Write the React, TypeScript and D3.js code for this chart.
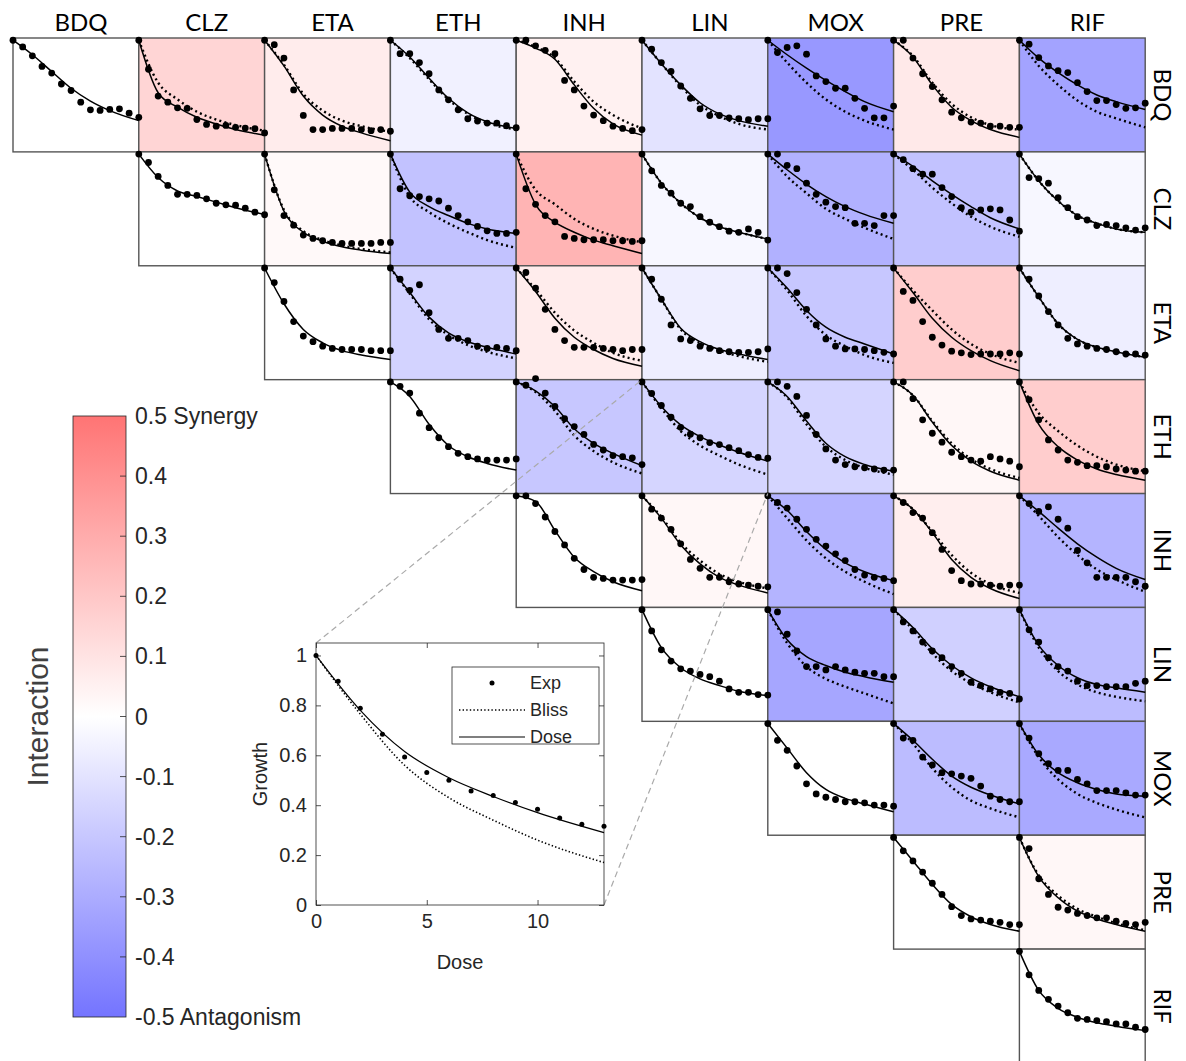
import React, { useEffect, useRef } from 'react';
import * as d3 from 'd3';

const drugs = ['BDQ', 'CLZ', 'ETA', 'ETH', 'INH', 'LIN', 'MOX', 'PRE', 'RIF'];
// experimental doses (dots) and the dose levels where the model curves were read
const doses = [0, 1, 2, 3, 4, 5, 6, 7, 8, 9, 10, 11, 12, 13];
const knots = [0, 2, 4, 6, 8, 10, 13];

// cells, row by row (upper triangle)
const pairs = [
    'BDQ-BDQ', 'BDQ-CLZ', 'BDQ-ETA', 'BDQ-ETH', 'BDQ-INH', 'BDQ-LIN', 'BDQ-MOX', 'BDQ-PRE', 'BDQ-RIF',
    'CLZ-CLZ', 'CLZ-ETA', 'CLZ-ETH', 'CLZ-INH', 'CLZ-LIN', 'CLZ-MOX', 'CLZ-PRE', 'CLZ-RIF',
    'ETA-ETA', 'ETA-ETH', 'ETA-INH', 'ETA-LIN', 'ETA-MOX', 'ETA-PRE', 'ETA-RIF',
    'ETH-ETH', 'ETH-INH', 'ETH-LIN', 'ETH-MOX', 'ETH-PRE', 'ETH-RIF',
    'INH-INH', 'INH-LIN', 'INH-MOX', 'INH-PRE', 'INH-RIF',
    'LIN-LIN', 'LIN-MOX', 'LIN-PRE', 'LIN-RIF',
    'MOX-MOX', 'MOX-PRE', 'MOX-RIF',
    'PRE-PRE', 'PRE-RIF',
    'RIF-RIF',
];

const interaction = [
    0, 0.15, 0.07, -0.05, 0.05, -0.1, -0.37, 0.08, -0.33,
    0, 0.02, -0.22, 0.27, -0.03, -0.28, -0.22, -0.03,
    0, -0.16, 0.07, -0.06, -0.2, 0.18, -0.06,
    0, -0.2, -0.15, -0.15, 0.03, 0.18,
    0, 0.03, -0.27, 0.06, -0.27,
    0, -0.32, -0.17, -0.24,
    0, -0.24, -0.31,
    0, 0.03,
    0,
];

const expGrowth = [
    [1, 0.94, 0.86, 0.765, 0.706, 0.608, 0.55, 0.445, 0.377, 0.371, 0.38, 0.386, 0.347, 0.31],
    [1, 0.74, 0.5, 0.445, 0.395, 0.39, 0.29, 0.246, 0.23, 0.237, 0.22, 0.213, 0.208, 0.17],
    [1, 0.96, 0.84, 0.555, 0.327, 0.2, 0.2, 0.21, 0.21, 0.21, 0.2, 0.19, 0.2, 0.185],
    [1, 0.88, 0.88, 0.8, 0.7, 0.555, 0.466, 0.377, 0.297, 0.276, 0.258, 0.258, 0.234, 0.216],
    [1, 1, 0.95, 0.91, 0.88, 0.64, 0.555, 0.41, 0.33, 0.28, 0.23, 0.21, 0.19, 0.2],
    [1, 0.92, 0.8, 0.72, 0.59, 0.48, 0.386, 0.326, 0.326, 0.305, 0.297, 0.288, 0.297, 0.297],
    [1, 0.89, 0.935, 0.95, 0.875, 0.68, 0.63, 0.57, 0.57, 0.48, 0.39, 0.305, 0.305, 0.41],
    [1, 1, 0.84, 0.7, 0.585, 0.466, 0.356, 0.305, 0.267, 0.258, 0.23, 0.23, 0.22, 0.22],
    [1, 0.965, 0.845, 0.77, 0.727, 0.71, 0.62, 0.54, 0.46, 0.46, 0.424, 0.39, 0.395, 0.436],

    [1, 0.925, 0.8, 0.72, 0.64, 0.64, 0.63, 0.6, 0.56, 0.546, 0.543, 0.516, 0.48, 0.457],
    [1, 0.68, 0.45, 0.364, 0.275, 0.245, 0.224, 0.209, 0.2, 0.2, 0.2, 0.2, 0.209, 0.209],
    [1, 0.69, 0.627, 0.62, 0.6, 0.58, 0.516, 0.45, 0.394, 0.352, 0.313, 0.29, 0.29, 0.3],
    [1, 0.69, 0.55, 0.45, 0.394, 0.263, 0.245, 0.233, 0.233, 0.233, 0.224, 0.224, 0.218, 0.224],
    [1, 0.85, 0.72, 0.65, 0.56, 0.53, 0.44, 0.39, 0.35, 0.31, 0.3, 0.33, 0.3, 0.23],
    [1, 1, 0.9, 0.87, 0.74, 0.64, 0.57, 0.53, 0.52, 0.38, 0.38, 0.36, 0.45, 0.45],
    [1, 0.95, 0.87, 0.82, 0.82, 0.7, 0.62, 0.52, 0.48, 0.5, 0.51, 0.5, 0.41, 0.31],
    [1, 0.79, 0.78, 0.74, 0.61, 0.52, 0.44, 0.41, 0.36, 0.37, 0.36, 0.34, 0.32, 0.34],

    [1, 0.87, 0.7, 0.52, 0.39, 0.34, 0.3, 0.28, 0.27, 0.27, 0.27, 0.26, 0.26, 0.26],
    [1, 0.9, 0.8, 0.85, 0.6, 0.45, 0.37, 0.37, 0.35, 0.3, 0.28, 0.29, 0.28, 0.26],
    [1, 0.96, 0.82, 0.63, 0.45, 0.35, 0.29, 0.29, 0.29, 0.28, 0.27, 0.26, 0.27, 0.27],
    [1, 0.9, 0.72, 0.49, 0.365, 0.35, 0.3, 0.28, 0.26, 0.25, 0.245, 0.245, 0.25, 0.275],
    [1, 1, 0.95, 0.78, 0.63, 0.49, 0.365, 0.3, 0.275, 0.275, 0.27, 0.26, 0.245, 0.23],
    [1, 0.79, 0.71, 0.52, 0.38, 0.31, 0.255, 0.24, 0.225, 0.23, 0.23, 0.23, 0.24, 0.23],
    [1, 0.9, 0.75, 0.61, 0.49, 0.37, 0.32, 0.3, 0.28, 0.27, 0.25, 0.23, 0.23, 0.22],

    [1, 0.96, 0.9, 0.72, 0.59, 0.5, 0.42, 0.36, 0.33, 0.31, 0.3, 0.3, 0.3, 0.31],
    [1, 0.97, 1.03, 0.9, 0.78, 0.67, 0.6, 0.53, 0.44, 0.39, 0.34, 0.33, 0.32, 0.26],
    [1, 0.897, 0.789, 0.684, 0.593, 0.531, 0.5, 0.457, 0.439, 0.411, 0.384, 0.349, 0.324, 0.316],
    [1, 1, 0.96, 0.87, 0.7, 0.53, 0.4, 0.3, 0.26, 0.24, 0.23, 0.22, 0.21, 0.21],
    [1, 1, 0.85, 0.66, 0.54, 0.46, 0.37, 0.33, 0.3, 0.29, 0.33, 0.31, 0.29, 0.24],
    [1, 0.84, 0.66, 0.48, 0.39, 0.3, 0.28, 0.25, 0.25, 0.24, 0.22, 0.21, 0.2, 0.2],

    [1, 1, 0.93, 0.81, 0.68, 0.56, 0.44, 0.34, 0.27, 0.26, 0.245, 0.245, 0.245, 0.25],
    [1, 0.88, 0.8, 0.7, 0.57, 0.43, 0.35, 0.27, 0.27, 0.23, 0.21, 0.2, 0.19, 0.185],
    [1, 0.94, 0.89, 0.79, 0.7, 0.61, 0.55, 0.48, 0.42, 0.34, 0.29, 0.27, 0.26, 0.24],
    [1, 0.94, 0.85, 0.8, 0.67, 0.52, 0.33, 0.24, 0.21, 0.21, 0.2, 0.19, 0.2, 0.2],
    [1, 0.93, 0.86, 0.9, 0.79, 0.71, 0.51, 0.4, 0.27, 0.27, 0.27, 0.27, 0.23, 0.19],

    [1, 0.81, 0.64, 0.54, 0.47, 0.45, 0.42, 0.4, 0.36, 0.29, 0.26, 0.26, 0.24, 0.235],
    [1, 0.98, 0.78, 0.63, 0.49, 0.49, 0.46, 0.49, 0.46, 0.44, 0.43, 0.43, 0.4, 0.4],
    [1, 0.89, 0.81, 0.71, 0.63, 0.57, 0.49, 0.43, 0.35, 0.32, 0.29, 0.26, 0.25, 0.2],
    [1, 0.82, 0.71, 0.57, 0.49, 0.45, 0.36, 0.32, 0.32, 0.31, 0.31, 0.31, 0.34, 0.36],

    [1, 0.85, 0.76, 0.62, 0.46, 0.37, 0.34, 0.32, 0.3, 0.3, 0.29, 0.27, 0.27, 0.26],
    [1, 0.87, 0.85, 0.7, 0.63, 0.56, 0.55, 0.53, 0.51, 0.44, 0.35, 0.32, 0.3, 0.3],
    [1, 0.87, 0.73, 0.64, 0.58, 0.58, 0.5, 0.46, 0.4, 0.4, 0.4, 0.38, 0.36, 0.36],

    [1, 0.88, 0.79, 0.69, 0.59, 0.49, 0.38, 0.3, 0.27, 0.26, 0.25, 0.24, 0.22, 0.22],
    [1, 0.9, 0.63, 0.49, 0.375, 0.35, 0.32, 0.3, 0.28, 0.28, 0.25, 0.23, 0.22, 0.24],

    [1, 0.79, 0.65, 0.57, 0.51, 0.45, 0.4, 0.39, 0.38, 0.37, 0.35, 0.35, 0.32, 0.3],
];

// Bliss independence prediction at the knots (null on the diagonal)
const blissCurve = [
    null,
    [1, 0.62, 0.47, 0.36, 0.29, 0.24, 0.19],
    [1, 0.78, 0.52, 0.37, 0.28, 0.23, 0.18],
    [1, 0.84, 0.65, 0.47, 0.34, 0.26, 0.2],
    [1, 0.94, 0.84, 0.63, 0.45, 0.33, 0.21],
    [1, 0.79, 0.59, 0.42, 0.32, 0.25, 0.2],
    [1, 0.8, 0.62, 0.47, 0.36, 0.28, 0.2],
    [1, 0.86, 0.62, 0.43, 0.31, 0.24, 0.2],
    [1, 0.77, 0.6, 0.46, 0.36, 0.3, 0.22],

    null,
    [1, 0.5, 0.31, 0.23, 0.18, 0.15, 0.12],
    [1, 0.62, 0.48, 0.38, 0.3, 0.23, 0.16],
    [1, 0.68, 0.55, 0.42, 0.33, 0.27, 0.21],
    [1, 0.74, 0.56, 0.43, 0.35, 0.3, 0.24],
    [1, 0.8, 0.65, 0.51, 0.42, 0.34, 0.24],
    [1, 0.86, 0.7, 0.56, 0.44, 0.35, 0.26],
    [1, 0.76, 0.58, 0.45, 0.38, 0.33, 0.3],

    null,
    [1, 0.77, 0.54, 0.4, 0.31, 0.25, 0.19],
    [1, 0.81, 0.6, 0.44, 0.33, 0.24, 0.17],
    [1, 0.72, 0.45, 0.33, 0.26, 0.21, 0.16],
    [1, 0.8, 0.57, 0.4, 0.3, 0.22, 0.15],
    [1, 0.8, 0.62, 0.45, 0.32, 0.23, 0.15],
    [1, 0.74, 0.5, 0.36, 0.29, 0.25, 0.2],

    null,
    [1, 0.91, 0.74, 0.52, 0.38, 0.28, 0.18],
    [1, 0.765, 0.56, 0.43, 0.34, 0.26, 0.17],
    [1, 0.86, 0.62, 0.42, 0.3, 0.23, 0.17],
    [1, 0.88, 0.65, 0.45, 0.31, 0.22, 0.14],
    [1, 0.72, 0.56, 0.43, 0.33, 0.26, 0.2],

    null,
    [1, 0.81, 0.58, 0.42, 0.3, 0.23, 0.17],
    [1, 0.8, 0.6, 0.44, 0.32, 0.23, 0.12],
    [1, 0.88, 0.68, 0.47, 0.31, 0.21, 0.13],
    [1, 0.82, 0.63, 0.47, 0.34, 0.25, 0.14],

    null,
    [1, 0.7, 0.49, 0.38, 0.31, 0.25, 0.16],
    [1, 0.82, 0.61, 0.45, 0.34, 0.26, 0.17],
    [1, 0.66, 0.45, 0.33, 0.26, 0.22, 0.18],

    null,
    [1, 0.82, 0.6, 0.43, 0.31, 0.24, 0.16],
    [1, 0.7, 0.5, 0.37, 0.29, 0.23, 0.16],

    null,
    [1, 0.66, 0.48, 0.36, 0.29, 0.23, 0.17],

    null,
];

// dose-equivalence prediction at the knots; single-drug fit on the diagonal
const doseCurve = [
    [1, 0.87, 0.72, 0.57, 0.455, 0.37, 0.28],
    [1, 0.53, 0.4, 0.31, 0.25, 0.2, 0.15],
    [1, 0.77, 0.5, 0.33, 0.23, 0.17, 0.1],
    [1, 0.85, 0.66, 0.48, 0.35, 0.27, 0.21],
    [1, 0.93, 0.83, 0.6, 0.39, 0.25, 0.15],
    [1, 0.79, 0.6, 0.44, 0.34, 0.28, 0.23],
    [1, 0.87, 0.75, 0.64, 0.54, 0.45, 0.36],
    [1, 0.85, 0.6, 0.4, 0.28, 0.2, 0.13],
    [1, 0.84, 0.71, 0.6, 0.51, 0.45, 0.38],

    [1, 0.79, 0.67, 0.62, 0.57, 0.52, 0.46],
    [1, 0.49, 0.3, 0.22, 0.17, 0.14, 0.11],
    [1, 0.66, 0.53, 0.45, 0.38, 0.33, 0.29],
    [1, 0.55, 0.39, 0.3, 0.23, 0.18, 0.11],
    [1, 0.74, 0.56, 0.43, 0.35, 0.3, 0.24],
    [1, 0.86, 0.73, 0.62, 0.53, 0.46, 0.38],
    [1, 0.89, 0.76, 0.64, 0.53, 0.43, 0.33],
    [1, 0.76, 0.58, 0.45, 0.38, 0.33, 0.3],

    [1, 0.68, 0.45, 0.33, 0.26, 0.22, 0.18],
    [1, 0.78, 0.56, 0.42, 0.34, 0.29, 0.23],
    [1, 0.79, 0.55, 0.38, 0.27, 0.19, 0.12],
    [1, 0.72, 0.46, 0.34, 0.27, 0.23, 0.18],
    [1, 0.82, 0.62, 0.47, 0.38, 0.32, 0.23],
    [1, 0.78, 0.55, 0.38, 0.26, 0.17, 0.08],
    [1, 0.74, 0.5, 0.36, 0.29, 0.25, 0.2],

    [1, 0.87, 0.62, 0.43, 0.33, 0.27, 0.21],
    [1, 0.92, 0.78, 0.58, 0.45, 0.36, 0.25],
    [1, 0.78, 0.615, 0.51, 0.435, 0.37, 0.29],
    [1, 0.87, 0.65, 0.45, 0.33, 0.26, 0.2],
    [1, 0.88, 0.64, 0.43, 0.29, 0.2, 0.12],
    [1, 0.62, 0.42, 0.3, 0.22, 0.17, 0.12],

    [1, 0.95, 0.69, 0.45, 0.32, 0.23, 0.15],
    [1, 0.8, 0.56, 0.39, 0.27, 0.2, 0.13],
    [1, 0.87, 0.68, 0.52, 0.4, 0.32, 0.24],
    [1, 0.88, 0.67, 0.43, 0.27, 0.17, 0.08],
    [1, 0.86, 0.71, 0.57, 0.45, 0.35, 0.25],

    [1, 0.66, 0.48, 0.38, 0.32, 0.27, 0.23],
    [1, 0.73, 0.58, 0.5, 0.44, 0.4, 0.35],
    [1, 0.84, 0.65, 0.5, 0.39, 0.31, 0.22],
    [1, 0.68, 0.5, 0.39, 0.33, 0.3, 0.26],

    [1, 0.78, 0.56, 0.41, 0.33, 0.28, 0.21],
    [1, 0.85, 0.68, 0.53, 0.43, 0.36, 0.28],
    [1, 0.72, 0.56, 0.47, 0.41, 0.37, 0.35],

    [1, 0.79, 0.58, 0.4, 0.29, 0.22, 0.16],
    [1, 0.65, 0.46, 0.34, 0.27, 0.22, 0.16],

    [1, 0.65, 0.49, 0.41, 0.36, 0.33, 0.29],
];

const insetPair = 'ETH-LIN';
const growthTicks = [0, 0.2, 0.4, 0.6, 0.8, 1];
const doseTicks = [0, 5, 10];
const colorbarTicks = [0.5, 0.4, 0.3, 0.2, 0.1, 0, -0.1, -0.2, -0.3, -0.4, -0.5];
const legendItems = ['Exp', 'Bliss', 'Dose'];

const LABEL_FONT = 'Lato, Carlito, "Open Sans", sans-serif';
const AX_FONT = '"Liberation Sans", Arial, sans-serif';
const AX_COLOR = '#262626';

const W = 1186;
const H = 1061;

const color = d3.scaleLinear<string>().domain([-0.5, 0, 0.5]).range(['#7474ff', '#ffffff', '#ff7474']);

const gridX = d3.scaleBand<string>().domain(drugs).range([13, 1145.2]);
const gridY = d3.scaleBand<string>().domain(drugs).range([38, 1063]);

const insetX = d3.scaleLinear().domain([0, 13]).range([316, 604]);
const insetY = d3.scaleLinear().domain([0, 1.05]).range([905, 643]);

const cbarY = d3.scaleLinear().domain([-0.5, 0.5]).range([1017, 416]);

function cellScales(pair: string) {
    const [r, c] = pair.split('-');
    const x0 = gridX(c) as number;
    const y0 = gridY(r) as number;
    const x = d3.scaleLinear().domain([0, 13]).range([x0, x0 + gridX.bandwidth()]);
    const y = d3.scaleLinear().domain([0, 1.02]).range([y0 + gridY.bandwidth(), y0]);
    return { x, y, x0, y0 };
}

function curvePath(values: number[], x: d3.ScaleLinear<number, number>, y: d3.ScaleLinear<number, number>) {
    return d3
        .line<number>()
        .x((d, i) => x(knots[i]))
        .y((d) => y(d))
        .curve(d3.curveMonotoneX)(values) as string;
}

export default function App() {
    const axLeft = useRef<SVGGElement>(null);
    const axBottom = useRef<SVGGElement>(null);
    const axRight = useRef<SVGGElement>(null);
    const axTop = useRef<SVGGElement>(null);

    useEffect(() => {
        const styleTicks = (g: d3.Selection<SVGGElement, unknown, null, undefined>) => {
            g.select('.domain').remove();
            g.selectAll('.tick line').attr('stroke', AX_COLOR).attr('stroke-width', 0.8);
            g.selectAll('.tick text')
                .attr('fill', AX_COLOR)
                .style('font-family', AX_FONT)
                .style('font-size', '20px');
        };
        d3.select(axLeft.current!)
            .call(d3.axisLeft(insetY).tickValues(growthTicks).tickFormat(d3.format('~g')).tickSizeInner(-5).tickSizeOuter(0).tickPadding(9))
            .call(styleTicks);
        d3.select(axBottom.current!)
            .call(d3.axisBottom(insetX).tickValues(doseTicks).tickFormat(d3.format('~g')).tickSizeInner(-5).tickSizeOuter(0).tickPadding(9))
            .call(styleTicks);
        d3.select(axRight.current!)
            .call(d3.axisRight(insetY).tickValues(growthTicks).tickFormat(() => '').tickSizeInner(-5).tickSizeOuter(0))
            .call(styleTicks);
        d3.select(axTop.current!)
            .call(d3.axisTop(insetX).tickValues(doseTicks).tickFormat(() => '').tickSizeInner(-5).tickSizeOuter(0))
            .call(styleTicks);
    }, []);

    const insetIdx = pairs.indexOf(insetPair);
    const insetCell = cellScales(insetPair);

    const legendX0 = 459;
    const legendX1 = 525;
    const legendRowY = d3.scalePoint<string>().domain(legendItems).range([683, 737]);

    return (
        <svg
            width={W}
            height={H}
            style={{ position: 'absolute', left: 0, top: 0, background: '#fff' }}
            xmlns="http://www.w3.org/2000/svg"
        >
            <defs>
                <linearGradient id="cbar" x1="0" y1="1" x2="0" y2="0">
                    {d3.range(0, 1.0001, 0.1).map((t) => (
                        <stop key={t} offset={t} stopColor={color(-0.5 + t)} />
                    ))}
                </linearGradient>
            </defs>
            <rect x={0} y={0} width={W} height={H} fill="#fff" />

            {/* cell backgrounds */}
            {pairs.map((p, i) => {
                const { x0, y0 } = cellScales(p);
                return (
                    <rect
                        key={'bg' + p}
                        x={x0}
                        y={y0}
                        width={gridX.bandwidth()}
                        height={gridY.bandwidth()}
                        fill={color(interaction[i])}
                        stroke="#555"
                        strokeWidth={1.4}
                    />
                );
            })}

            {/* curves and dots */}
            {pairs.map((p, i) => {
                const { x, y } = cellScales(p);
                const bliss = blissCurve[i];
                return (
                    <g key={'c' + p}>
                        {bliss && (
                            <path
                                d={curvePath(bliss, x, y)}
                                fill="none"
                                stroke="#000"
                                strokeWidth={2.4}
                                strokeDasharray="2 3.2"
                            />
                        )}
                        <path d={curvePath(doseCurve[i], x, y)} fill="none" stroke="#000" strokeWidth={1.5} />
                        {expGrowth[i].map((v, k) => (
                            <circle key={k} cx={x(doses[k])} cy={y(v)} r={3.4} fill="#000" />
                        ))}
                    </g>
                );
            })}

            {/* column labels */}
            {drugs.map((d) => (
                <text
                    key={'col' + d}
                    x={(gridX(d) as number) + gridX.bandwidth() / 2 + 5}
                    y={31}
                    textAnchor="middle"
                    fontFamily={LABEL_FONT}
                    fontSize={24}
                    fill="#000"
                >
                    {d}
                </text>
            ))}

            {/* row labels */}
            {drugs.map((d) => {
                const cy = (gridY(d) as number) + gridY.bandwidth() / 2;
                return (
                    <text
                        key={'row' + d}
                        transform={`translate(1154,${cy}) rotate(90)`}
                        textAnchor="middle"
                        fontFamily={LABEL_FONT}
                        fontSize={24}
                        fill="#000"
                    >
                        {d}
                    </text>
                );
            })}

            {/* zoom connectors */}
            <line
                x1={insetX(0)}
                y1={insetY.range()[1]}
                x2={insetCell.x(0)}
                y2={insetCell.y.range()[1]}
                stroke="#aaa"
                strokeWidth={1.2}
                strokeDasharray="6 4"
            />
            <line
                x1={insetX(13)}
                y1={insetY(0)}
                x2={insetCell.x(13)}
                y2={insetCell.y.range()[0]}
                stroke="#aaa"
                strokeWidth={1.2}
                strokeDasharray="6 4"
            />

            {/* inset */}
            <rect x={316} y={643} width={288} height={262} fill="#fff" stroke={AX_COLOR} strokeWidth={0.8} />
            <g ref={axLeft} transform="translate(316,0)" />
            <g ref={axBottom} transform="translate(0,905)" />
            <g ref={axRight} transform="translate(604,0)" />
            <g ref={axTop} transform="translate(0,643)" />
            <path
                d={curvePath(blissCurve[insetIdx] as number[], insetX, insetY)}
                fill="none"
                stroke="#000"
                strokeWidth={1.6}
                strokeDasharray="1.4 2.2"
            />
            <path d={curvePath(doseCurve[insetIdx], insetX, insetY)} fill="none" stroke="#000" strokeWidth={1.2} />
            {expGrowth[insetIdx].map((v, k) => (
                <circle key={'in' + k} cx={insetX(doses[k])} cy={insetY(v)} r={2.5} fill="#000" />
            ))}
            <text
                transform={`translate(260,774) rotate(-90)`}
                textAnchor="middle"
                dominantBaseline="central"
                fontFamily={AX_FONT}
                fontSize={20}
                fill={AX_COLOR}
            >
                Growth
            </text>
            <text x={460} y={969} textAnchor="middle" fontFamily={AX_FONT} fontSize={20} fill={AX_COLOR}>
                Dose
            </text>

            {/* legend */}
            <rect x={452} y={667} width={147} height={77} fill="#fff" stroke={AX_COLOR} strokeWidth={0.8} />
            {legendItems.map((item) => {
                const ly = legendRowY(item) as number;
                return (
                    <g key={item}>
                        {item === 'Exp' && <circle cx={(legendX0 + legendX1) / 2} cy={ly} r={2.5} fill="#000" />}
                        {item === 'Bliss' && (
                            <line x1={legendX0} x2={legendX1} y1={ly} y2={ly} stroke="#000" strokeWidth={1.6} strokeDasharray="1.4 2.2" />
                        )}
                        {item === 'Dose' && <line x1={legendX0} x2={legendX1} y1={ly} y2={ly} stroke="#000" strokeWidth={1.2} />}
                        <text x={530} y={ly} dominantBaseline="central" fontFamily={AX_FONT} fontSize={18} fill={AX_COLOR}>
                            {item}
                        </text>
                    </g>
                );
            })}

            {/* colorbar */}
            <rect x={73} y={cbarY(0.5)} width={53} height={cbarY(-0.5) - cbarY(0.5)} fill="url(#cbar)" stroke={AX_COLOR} strokeWidth={0.8} />
            {colorbarTicks.map((t) => (
                <g key={'cb' + t}>
                    {Math.abs(t) < 0.5 && <line x1={120} x2={126} y1={cbarY(t)} y2={cbarY(t)} stroke={AX_COLOR} strokeWidth={0.8} />}
                    <text x={135} y={cbarY(t)} dominantBaseline="central" fontFamily={AX_FONT} fontSize={23} fill={AX_COLOR}>
                        {(t === 0 ? '0' : d3.format('.1f')(t).replace('−', '-')) +
                            (t === 0.5 ? ' Synergy' : t === -0.5 ? ' Antagonism' : '')}
                    </text>
                </g>
            ))}
            <text
                transform={`translate(37,${cbarY(0)}) rotate(-90)`}
                textAnchor="middle"
                dominantBaseline="central"
                fontFamily={AX_FONT}
                fontSize={30}
                fill="#404040"
            >
                Interaction
            </text>
        </svg>
    );
}
